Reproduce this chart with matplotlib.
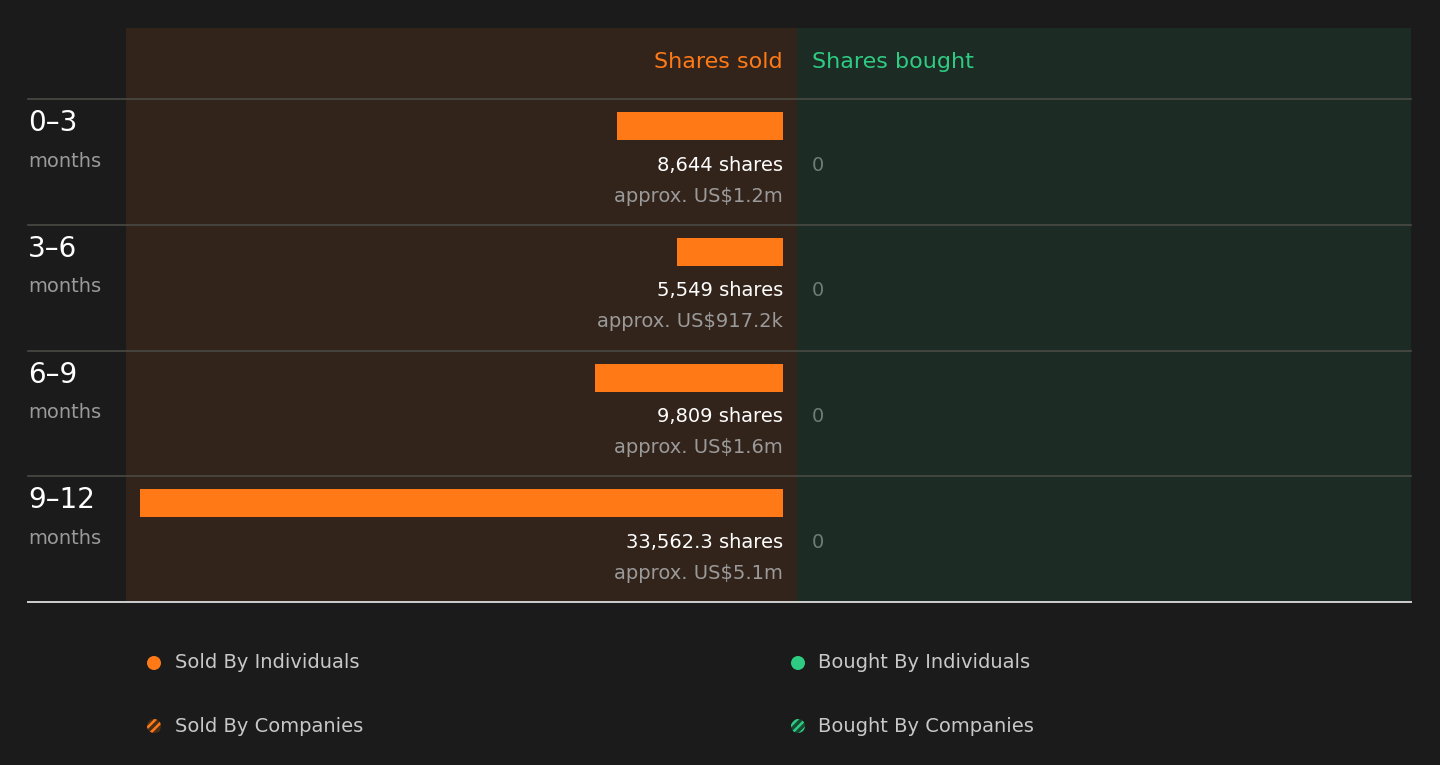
import matplotlib
matplotlib.use("Agg")
import matplotlib.pyplot as plt
from matplotlib.patches import Rectangle, Circle

# ---- data ----
periods = ["0–3", "3–6", "6–9", "9–12"]
sold_shares = [8644, 5549, 9809, 33562.3]
sold_labels = ["8,644 shares", "5,549 shares", "9,809 shares", "33,562.3 shares"]
sold_values = ["approx. US$1.2m", "approx. US$917.2k", "approx. US$1.6m", "approx. US$5.1m"]
bought_labels = ["0", "0", "0", "0"]
legend_left = ["Sold By Individuals", "Sold By Companies"]
legend_right = ["Bought By Individuals", "Bought By Companies"]

# ---- style ----
BG = "#1b1b1b"
SOLD_BG = "#33241b"
BOUGHT_BG = "#1c2b24"
ORANGE = "#ff7a17"
GREEN = "#2ecc82"
WHITE = "#ffffff"
GREY = "#9a9a9a"
ZERO = "#6e7d75"
SEP = "#4a4a44"
plt.rcParams['font.family'] = ['DejaVu Sans']
plt.rcParams['hatch.linewidth'] = 1.8

W, H = 1440, 765
fig = plt.figure(figsize=(W / 100, H / 100), dpi=100, facecolor=BG)

bg = fig.add_axes([0, 0, 1, 1])
bg.set_xlim(0, W)
bg.set_ylim(H, 0)
bg.axis("off")
bg.set_facecolor(BG)

top, head_bot, bottom = 28, 99, 602
x_left, x_mid, x_right = 126, 797, 1411
bg.add_patch(Rectangle((x_left, top), x_mid - x_left, bottom - top, color=SOLD_BG, lw=0, zorder=0))
bg.add_patch(Rectangle((x_mid, top), x_right - x_mid, bottom - top, color=BOUGHT_BG, lw=0, zorder=0))

bg.text(783, 62, "Shares sold", color=ORANGE, fontsize=16, ha="right", va="center")
bg.text(812, 62, "Shares bought", color=GREEN, fontsize=16, ha="left", va="center")

n = len(periods)
row_h = (bottom - head_bot) / n
for i in range(n):
    y0 = head_bot + i * row_h
    bg.plot([28, x_right], [y0, y0], color=SEP, lw=1.2, zorder=1)
    bg.text(28, y0 + 24, periods[i], color=WHITE, fontsize=20, ha="left", va="center")
    bg.text(28, y0 + 62, "months", color=GREY, fontsize=14, ha="left", va="center")
    bg.text(783, y0 + 66, sold_labels[i], color=WHITE, fontsize=14, ha="right", va="center")
    bg.text(783, y0 + 97, sold_values[i], color=GREY, fontsize=14, ha="right", va="center")
    bg.text(812, y0 + 66, bought_labels[i], color=ZERO, fontsize=14, ha="left", va="center")
bg.plot([28, x_right], [bottom, bottom], color="#cfcfcf", lw=1.4, zorder=2)

# legend
for j, (lab, yy) in enumerate(zip(legend_left, [663, 726])):
    if j == 0:
        bg.add_patch(Circle((154, yy), 7, facecolor=ORANGE, lw=0))
    else:
        bg.add_patch(Circle((154, yy), 7, facecolor="#4a2f18", edgecolor=ORANGE, hatch="////", lw=0))
    bg.text(175, yy, lab, color="#c8c8c8", fontsize=14, ha="left", va="center")
for j, (lab, yy) in enumerate(zip(legend_right, [663, 726])):
    if j == 0:
        bg.add_patch(Circle((798, yy), 7, facecolor=GREEN, lw=0))
    else:
        bg.add_patch(Circle((798, yy), 7, facecolor="#174a33", edgecolor=GREEN, hatch="////", lw=0))
    bg.text(818, yy, lab, color="#c8c8c8", fontsize=14, ha="left", va="center")

# bars axes (left panel body)
ax = fig.add_axes([x_left / W, 1 - bottom / H, (x_mid - x_left) / W, (bottom - head_bot) / H])
ax.patch.set_alpha(0)
ax.axis("off")
k = max(sold_shares) / (783 - 140)
ax.set_xlim((783 - x_left) * k, -(x_mid - 783) * k)
ax.set_ylim(n, 0)
ypos = [i + 27 / row_h for i in range(n)]
ax.barh(ypos, sold_shares, height=28 / row_h, color=ORANGE, left=0)

fig.savefig("out.png", dpi=100, facecolor=BG)
